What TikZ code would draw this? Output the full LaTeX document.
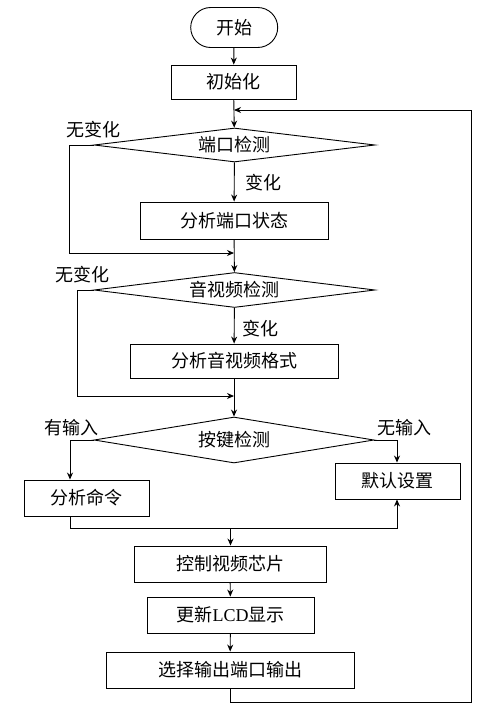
\documentclass[tikz,border=0pt]{standalone}
\usepackage{fontspec}
\setmainfont{Liberation Serif}
\newfontfamily\cjk{Noto Sans CJK SC}
\usetikzlibrary{shapes.geometric,arrows.meta}
\begin{document}
\begin{tikzpicture}[x=1pt,y=-1pt,
  line width=0.9pt,
  every node/.style={font=\cjk\fontsize{18pt}{20pt}\selectfont, inner sep=0pt},
  box/.style={draw, rectangle, minimum height=36pt},
  term/.style={draw, rectangle, rounded corners=20pt, minimum width=87pt, minimum height=40pt},
  dec/.style={draw, diamond, shape aspect=8, minimum width=281pt, minimum height=34pt},
  lbl/.style={},
  arr/.style={-{Stealth[length=7pt,width=6pt]}},
  ln/.style={}
]
\path[use as bounding box] (0,0) rectangle (503,710);

\node[term] (start) at (234.2,27.5) {开始};
\node[box, minimum width=125pt, minimum height=34pt] (init) at (233.5,82) {初始化};
\node[dec] (d1) at (234.5,145) {端口检测};
\node[box, minimum width=188pt, minimum height=37pt] (b1) at (234,220.5) {分析端口状态};
\node[dec, minimum height=35pt] (d2) at (234.5,290) {音视频检测};
\node[box, minimum width=208pt, minimum height=34pt] (b2) at (234,361) {分析音视频格式};
\node[dec, minimum width=280pt, minimum height=46pt] (d3) at (234,440) {按键检测};
\node[box, minimum width=125pt] (c1) at (86.5,498) {分析命令};
\node[box, minimum width=125pt] (c2) at (397.5,481) {默认设置};
\node[box, minimum width=192pt] (b3) at (230,564) {控制视频芯片};
\node[box, minimum width=167pt] (b4) at (230.5,615) {更新{\rmfamily LCD}显示};
\node[box, minimum width=248pt] (b5) at (230,670) {选择输出端口输出};

\node[lbl] (l1) at (93,130) {无变化};
\node[lbl] (l2) at (263,183) {变化};
\node[lbl] (l3) at (82,275) {无变化};
\node[lbl] (l4) at (260,329) {变化};
\node[lbl] (l5) at (72,428) {有输入};
\node[lbl] (l6) at (404,428) {无输入};

\coordinate (loopin) at (234,110);
\coordinate (m1) at (234,253);
\coordinate (m1l) at (69,253);
\coordinate (m2) at (234,396);
\coordinate (m2l) at (77,396);
\coordinate (m3l) at (70,528);
\coordinate (m3r) at (397,528);
\coordinate (m3c) at (230.5,528);
\coordinate (bot) at (230,702);
\coordinate (botr) at (471,702);
\coordinate (topr) at (471,110);

\draw[arr] (start) -- (init);
\draw[arr] (init) -- (d1);
\draw[arr] (d1) -- (b1);
\draw[arr] (d1.west) -| (m1l) -- (m1);
\draw[arr] (b1) -- (d2);
\draw[arr] (d2) -- (b2);
\draw[arr] (d2.west) -| (m2l) -- (m2);
\draw[arr] (b2) -- (d3);
\draw[arr] (d3.west) -| (c1.north -| m3l);
\draw[arr] (d3.east) -| (c2.north -| m3r);
\draw[arr] (c1.south -| m3l) -- (m3l) -- (m3r) -- (c2.south -| m3r);
\draw[arr] (m3c) -- (b3.north -| m3c);
\draw[arr] (b3) -- (b4);
\draw[arr] (b4) -- (b5);
\draw[arr] (b5.south) -- (bot) -- (botr) -- (topr) -- (loopin);
\end{tikzpicture}
\end{document}
